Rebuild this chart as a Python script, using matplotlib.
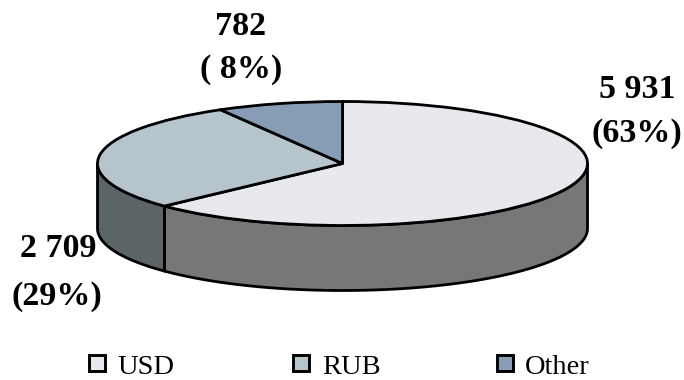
import numpy as np
import matplotlib
matplotlib.use("Agg")
import matplotlib.pyplot as plt
from matplotlib.patches import Rectangle

# Currency breakdown
categories = ["USD", "RUB", "Other"]
amounts = [5931, 2709, 782]
value_labels = ["5 931", "2 709", "782"]
share_labels = ["(63%)", "(29%)", "( 8%)"]
top_colors = ["#e7e9ee", "#b6c5cb", "#879db5"]
side_colors = ["#777777", "#5b6568", "#5a6a7a"]

W, H = 684, 380
CX, CY = 342.5, 163.5  # centre of the top face, pixels
RX, RY = 245, 62       # semi-axes of the top face, pixels
DEPTH = 65 / RY        # wall height in data units
EDGE = 2.0

plt.rcParams["font.family"] = ["Liberation Serif", "DejaVu Serif"]
fig = plt.figure(figsize=(W / 100, H / 100), dpi=100, facecolor="white")
ax = fig.add_axes([0, 0, 1, 1])

# Top face: a regular pie squashed by a non-equal axes aspect
ax.pie(amounts, colors=top_colors, startangle=90, counterclock=False, radius=1,
       wedgeprops=dict(edgecolor="black", linewidth=EDGE, joinstyle="round"))
ax.set_aspect("auto")
ax.set_xlim(-CX / RX, (W - CX) / RX)
ax.set_ylim(-(H - CY) / RY, CY / RY)
ax.axis("off")

# Cylinder walls, only the part of each slice on the front half of the rim
fractions = np.cumsum([0] + amounts) / sum(amounts)
for i, color in enumerate(side_colors):
    start = max(fractions[i] * 360, 90)
    stop = min(fractions[i + 1] * 360, 270)
    if start >= stop:
        continue
    theta = np.radians(np.linspace(start, stop, 120))
    x, y = np.sin(theta), np.cos(theta)
    ax.fill(np.r_[x, x[::-1]], np.r_[y, y[::-1] - DEPTH], facecolor=color,
            edgecolor="black", linewidth=EDGE, joinstyle="round", zorder=0.5)


def px(x, y):
    return x / W, 1 - y / H


# Slice annotations
label_pos = {0: [(637.5, 98), (637, 142)], 1: [(58, 257), (57, 305)], 2: [(241, 35), (241, 78)]}
for i in range(3):
    for text, (x, y) in zip((value_labels[i], share_labels[i]), label_pos[i]):
        fig.text(*px(x, y), text, ha="center", va="baseline", fontsize=24.5,
                 fontweight="bold", color="black")

# Legend row
legend_x = [(96.5, 117), (301, 322), (504.5, 525)]
LEGEND_BASE = 374
for name, color, (bx, tx) in zip(categories, top_colors, legend_x):
    fig.add_artist(Rectangle(px(bx - 8, LEGEND_BASE - 3), 16 / W, 16 / H, transform=fig.transFigure,
                             facecolor=color, edgecolor="black", linewidth=2.1))
    fig.text(*px(tx, LEGEND_BASE), name, ha="left", va="baseline", fontsize=20.5, color="black")

fig.savefig("out.png", dpi=100)
